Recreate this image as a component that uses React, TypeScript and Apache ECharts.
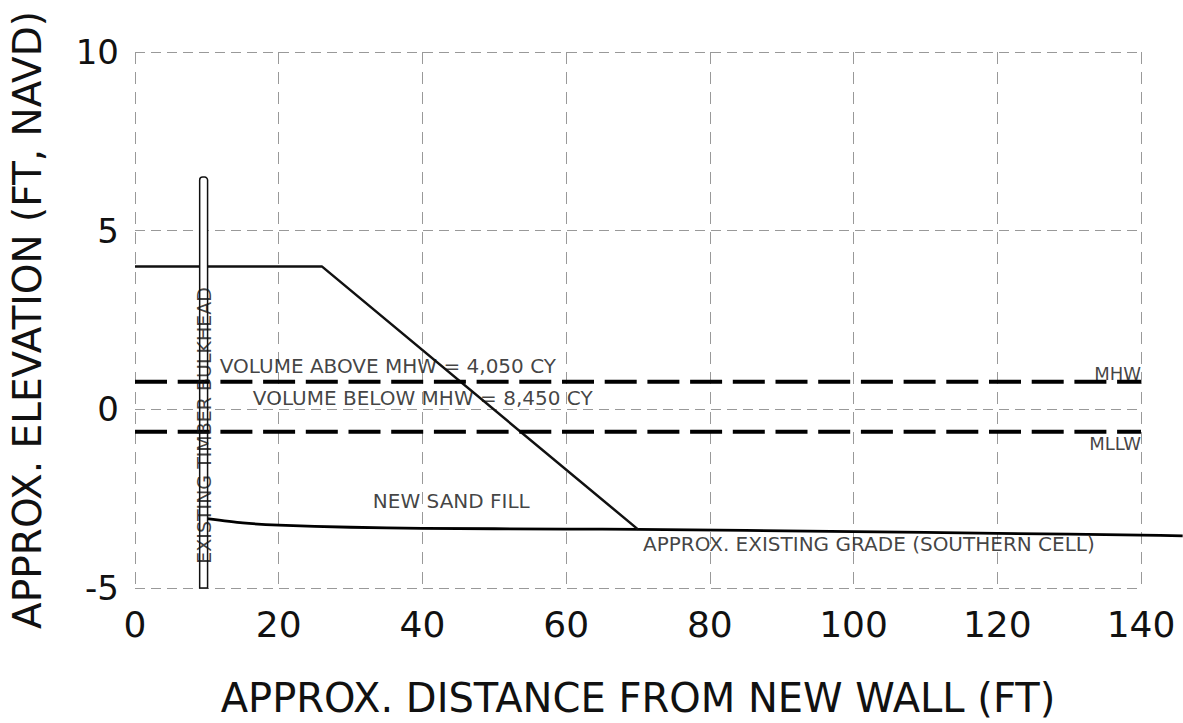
import React, { useEffect, useRef } from "react";
import * as echarts from "echarts";

// Existing grade (southern cell); continues past the last grid line
const gradeX = [10, 15, 20, 30, 40, 60, 70, 100, 120, 140, 145.8];
const gradeY = [-3.06, -3.18, -3.24, -3.3, -3.33, -3.35, -3.36, -3.42, -3.47, -3.52, -3.54];

// New sand fill profile
const fillX = [0, 26, 70];
const fillY = [4, 4, -3.36];

// Tidal datums
const mhwY = 0.77;
const mllwY = -0.63;
const datumX = [0, 140];

// Existing timber bulkhead: [xLeft, xRight, bottom, top]
const bulkhead = [9.0, 10.1, -5, 6.5];

// Annotations: [x, y, text, align]
const notes: [number, number, string, string][] = [
  [11.8, 1.22, "VOLUME ABOVE MHW = 4,050 CY", "left"],
  [16.4, 0.31, "VOLUME BELOW MHW = 8,450 CY", "left"],
  [33.1, -2.56, "NEW SAND FILL", "left"],
  [70.7, -3.76, "APPROX. EXISTING GRADE (SOUTHERN CELL)", "left"],
  [140, 1.0, "MHW", "right"],
  [140, -0.97, "MLLW", "right"],
];
const bulkheadLabel = "EXISTING TIMBER BULKHEAD";
const bulkheadLabelPos = [9.55, -0.45];

const xTitle = "APPROX. DISTANCE FROM NEW WALL (FT)";
const yTitle = "APPROX. ELEVATION (FT, NAVD)";

const FONT = "DejaVu Sans";

export default function App() {
  const ref = useRef<HTMLDivElement>(null);
  useEffect(() => {
    const chart = echarts.init(ref.current!, undefined, { renderer: "svg" });
    const dashLine = (y: number) => ({
      type: "line",
      data: datumX.map((x) => [x, y]),
      symbol: "none",
      lineStyle: { color: "#000", width: 4, type: [32, 10.7] },
      z: 6,
      silent: true,
    });
    chart.setOption({
      animation: false,
      backgroundColor: "#fff",
      textStyle: { fontFamily: FONT },
      grid: { left: 135, top: 52, right: 42, bottom: 131, containLabel: false },
      xAxis: {
        type: "value",
        min: 0,
        max: 140,
        interval: 20,
        name: xTitle,
        nameLocation: "middle",
        nameGap: 90,
        nameTextStyle: { fontSize: 40, color: "#111", fontFamily: FONT },
        axisLine: { show: false },
        axisTick: { show: false },
        axisLabel: { fontSize: 36, color: "#111", margin: 18, fontFamily: FONT },
        splitLine: { show: true, lineStyle: { color: "#999", width: 1, type: [12, 8] } },
      },
      yAxis: {
        type: "value",
        min: -5,
        max: 10,
        interval: 5,
        name: yTitle,
        nameLocation: "middle",
        nameGap: 88,
        nameTextStyle: { fontSize: 39, color: "#111", fontFamily: FONT },
        axisLine: { show: false },
        axisTick: { show: false },
        axisLabel: { fontSize: 34, color: "#111", margin: 16, fontFamily: FONT },
        splitLine: { show: true, lineStyle: { color: "#999", width: 1, type: [10, 6] } },
      },
      series: [
        {
          type: "line",
          data: fillX.map((x, i) => [x, fillY[i]]),
          symbol: "none",
          lineStyle: { color: "#111", width: 2.5 },
          z: 3,
          silent: true,
        },
        {
          type: "custom",
          z: 3,
          silent: true,
          clip: false,
          data: [[gradeX[0], gradeY[0]]],
          renderItem: (params: any, api: any) => {
            const pts = gradeX.map((x, i) => api.coord([x, gradeY[i]]));
            return {
              type: "polyline",
              shape: { points: pts, smooth: 0.25 },
              style: { stroke: "#000", lineWidth: 2.8, fill: "none" },
            };
          },
        },
        {
          type: "custom",
          z: 5,
          silent: true,
          data: [bulkhead],
          renderItem: (params: any, api: any) => {
            const p0 = api.coord([api.value(0), api.value(3)]);
            const p1 = api.coord([api.value(1), api.value(2)]);
            return {
              type: "rect",
              shape: { x: p0[0], y: p0[1], width: p1[0] - p0[0], height: p1[1] - p0[1], r: [3, 3, 0, 0] },
              style: { fill: "#fff", stroke: "#111", lineWidth: 1.5 },
            };
          },
        },
        dashLine(mhwY),
        dashLine(mllwY),
        {
          type: "scatter",
          symbolSize: 0,
          z: 7,
          silent: true,
          clip: false,
          data: notes.map((n) => ({
            value: [n[0], n[1]],
            label: {
              show: true,
              formatter: n[2],
              position: [0, 0],
              align: n[3],
              verticalAlign: "middle",
              fontSize: n[2].length <= 4 ? 18 : 20,
              color: "#111",
              fontFamily: FONT,
            },
          })),
        },
        {
          type: "scatter",
          symbolSize: 0,
          z: 7,
          silent: true,
          data: [
            {
              value: bulkheadLabelPos,
              label: {
                show: true,
                formatter: bulkheadLabel,
                position: [0, 0],
                rotate: 90,
                align: "center",
                verticalAlign: "middle",
                fontSize: 19,
                color: "#111",
                fontFamily: FONT,
              },
            },
          ],
        },
      ],
    });
    return () => chart.dispose();
  }, []);
  return (
    <div
      ref={ref}
      style={{ position: "absolute", left: 0, top: 0, width: 1183, height: 723, background: "#fff" }}
    />
  );
}
